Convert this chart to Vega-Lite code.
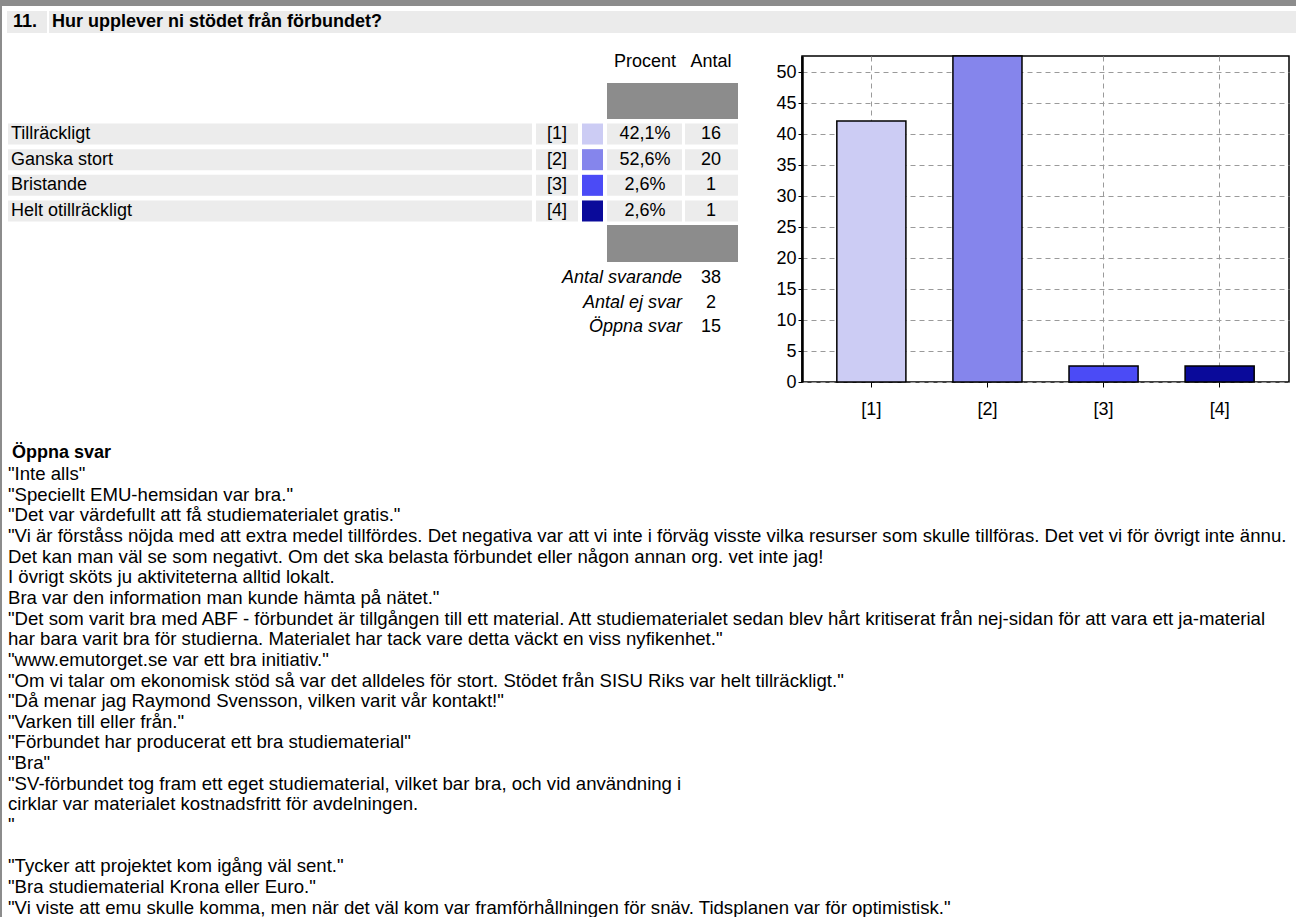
{
  "$schema": "https://vega.github.io/schema/vega-lite/v6.json",
  "padding": 0,
  "background": "white",
  "spacing": 0,
  "config": {
    "view": {"stroke": null},
    "concat": {"spacing": 0},
    "font": "Liberation Sans",
    "text": {"font": "Liberation Sans", "color": "black"}
  },
  "datasets": {
    "svar": [
      {"kod": "[1]", "svar": "Tillräckligt", "procent": 42.1, "procentText": "42,1%", "antal": 16},
      {"kod": "[2]", "svar": "Ganska stort", "procent": 52.6, "procentText": "52,6%", "antal": 20},
      {"kod": "[3]", "svar": "Bristande", "procent": 2.6, "procentText": "2,6%", "antal": 1},
      {"kod": "[4]", "svar": "Helt otillräckligt", "procent": 2.6, "procentText": "2,6%", "antal": 1}
    ],
    "summa": [
      {"etikett": "Antal svarande", "varde": 38},
      {"etikett": "Antal ej svar", "varde": 2},
      {"etikett": "Öppna svar", "varde": 15}
    ],
    "tom": [{}],
    "ingen": [],
    "rubrik": [{"rad": 0, "text": "Öppna svar"}],
    "oppna": [
      {"rad": 1, "text": "\"Inte alls\""},
      {"rad": 2, "text": "\"Speciellt EMU-hemsidan var bra.\""},
      {"rad": 3, "text": "\"Det var värdefullt att få studiematerialet gratis.\""},
      {"rad": 4, "text": "\"Vi är förståss nöjda med att extra medel tillfördes. Det negativa var att vi inte i förväg visste vilka resurser som skulle tillföras. Det vet vi för övrigt inte ännu."},
      {"rad": 5, "text": "Det kan man väl se som negativt. Om det ska belasta förbundet eller någon annan org. vet inte jag!"},
      {"rad": 6, "text": "I övrigt sköts ju aktiviteterna alltid lokalt."},
      {"rad": 7, "text": "Bra var den information man kunde hämta på nätet.\""},
      {"rad": 8, "text": "\"Det som varit bra med ABF - förbundet är tillgången till ett material. Att studiematerialet sedan blev hårt kritiserat från nej-sidan för att vara ett ja-material"},
      {"rad": 9, "text": "har bara varit bra för studierna. Materialet har tack vare detta väckt en viss nyfikenhet.\""},
      {"rad": 10, "text": "\"www.emutorget.se var ett bra initiativ.\""},
      {"rad": 11, "text": "\"Om vi talar om ekonomisk stöd så var det alldeles för stort. Stödet från SISU Riks var helt tillräckligt.\""},
      {"rad": 12, "text": "\"Då menar jag Raymond Svensson, vilken varit vår kontakt!\""},
      {"rad": 13, "text": "\"Varken till eller från.\""},
      {"rad": 14, "text": "\"Förbundet har producerat ett bra studiematerial\""},
      {"rad": 15, "text": "\"Bra\""},
      {"rad": 16, "text": "\"SV-förbundet tog fram ett eget studiematerial, vilket bar bra, och vid användning i"},
      {"rad": 17, "text": "cirklar var materialet kostnadsfritt för avdelningen."},
      {"rad": 18, "text": "\""},
      {"rad": 20, "text": "\"Tycker att projektet kom igång väl sent.\""},
      {"rad": 21, "text": "\"Bra studiematerial Krona eller Euro.\""},
      {"rad": 22, "text": "\"Vi viste att emu skulle komma, men när det väl kom var framförhållningen för snäv. Tidsplanen var för optimistisk.\""}
    ]
  },
  "vconcat": [
    {"width": 1296, "height": 6, "data": {"name": "ingen"}, "mark": "rect", "view": {"fill": "#8c8c8c"}},
    {
      "spacing": 0,
      "hconcat": [
        {"width": 2, "height": 911, "data": {"name": "ingen"}, "mark": "rect", "view": {"fill": "#8c8c8c"}},
        {
          "spacing": 0,
          "vconcat": [
            {"width": 10, "height": 5, "data": {"name": "ingen"}, "mark": "rect"},
            {
              "spacing": 0,
              "hconcat": [
                {"width": 5, "height": 22, "data": {"name": "ingen"}, "mark": "rect"},
                {"width": 40, "height": 22, "data": {"name": "tom"}, "view": {"fill": "#ebebeb"},
                 "mark": {"type": "text", "text": "11.", "align": "left", "baseline": "middle", "fontWeight": "bold", "fontSize": 18},
                 "encoding": {"x": {"value": 6}, "y": {"value": 11}}},
                {"width": 2, "height": 22, "data": {"name": "ingen"}, "mark": "rect"},
                {"width": 1247, "height": 22, "data": {"name": "tom"}, "view": {"fill": "#ebebeb"},
                 "mark": {"type": "text", "text": "Hur upplever ni stödet från förbundet?", "align": "left", "baseline": "middle", "fontWeight": "bold", "fontSize": 18},
                 "encoding": {"x": {"value": 3}, "y": {"value": 11}}}
              ]
            },
            {
              "spacing": 0,
              "hconcat": [
                {
                  "width": 759,
                  "height": 387,
                  "resolve": {"scale": {"y": "independent"}},
                  "layer": [
                    {"data": {"name": "tom"}, "mark": {"type": "text", "text": "Procent", "align": "center", "baseline": "middle", "fontSize": 18},
                     "encoding": {"x": {"value": 643}, "y": {"value": 29}}},
                    {"data": {"name": "tom"}, "mark": {"type": "text", "text": "Antal", "align": "center", "baseline": "middle", "fontSize": 18},
                     "encoding": {"x": {"value": 709}, "y": {"value": 29}}},
                    {"data": {"name": "tom"}, "mark": {"type": "rect", "color": "#8c8c8c"},
                     "encoding": {"x": {"value": 605}, "x2": {"value": 736}, "y": {"value": 50}, "y2": {"value": 86}}},
                    {"data": {"name": "tom"}, "mark": {"type": "rect", "color": "#8c8c8c"},
                     "encoding": {"x": {"value": 605}, "x2": {"value": 736}, "y": {"value": 192}, "y2": {"value": 229}}},
                    {"data": {"name": "svar"}, "mark": {"type": "rect", "color": "#ececec"},
                     "encoding": {"x": {"value": 6}, "x2": {"value": 530},
                       "y": {"field": "kod", "type": "nominal", "sort": null, "axis": null, "scale": {"type": "band", "range": [90.5, 188.5], "paddingInner": 0.18, "paddingOuter": 0}}}},
                    {"data": {"name": "svar"}, "mark": {"type": "rect", "color": "#ececec"},
                     "encoding": {"x": {"value": 534}, "x2": {"value": 576},
                       "y": {"field": "kod", "type": "nominal", "sort": null, "axis": null, "scale": {"type": "band", "range": [90.5, 188.5], "paddingInner": 0.18, "paddingOuter": 0}}}},
                    {"data": {"name": "svar"}, "mark": {"type": "rect"},
                     "encoding": {"x": {"value": 580}, "x2": {"value": 601},
                       "y": {"field": "kod", "type": "nominal", "sort": null, "axis": null, "scale": {"type": "band", "range": [90.5, 188.5], "paddingInner": 0.18, "paddingOuter": 0}},
                       "color": {"field": "kod", "type": "nominal", "legend": null, "scale": {"domain": ["[1]", "[2]", "[3]", "[4]"], "range": ["#ccccf4", "#8585ec", "#4b4bf6", "#0a0a9a"]}}}},
                    {"data": {"name": "svar"}, "mark": {"type": "rect", "color": "#ececec"},
                     "encoding": {"x": {"value": 605}, "x2": {"value": 680},
                       "y": {"field": "kod", "type": "nominal", "sort": null, "axis": null, "scale": {"type": "band", "range": [90.5, 188.5], "paddingInner": 0.18, "paddingOuter": 0}}}},
                    {"data": {"name": "svar"}, "mark": {"type": "rect", "color": "#ececec"},
                     "encoding": {"x": {"value": 683}, "x2": {"value": 736},
                       "y": {"field": "kod", "type": "nominal", "sort": null, "axis": null, "scale": {"type": "band", "range": [90.5, 188.5], "paddingInner": 0.18, "paddingOuter": 0}}}},
                    {"data": {"name": "svar"}, "mark": {"type": "text", "align": "left", "baseline": "middle", "fontSize": 18},
                     "encoding": {"x": {"value": 9}, "text": {"field": "svar"},
                       "y": {"field": "kod", "type": "nominal", "sort": null, "axis": null, "scale": {"type": "band", "range": [90.5, 188.5], "paddingInner": 0.18, "paddingOuter": 0}}}},
                    {"data": {"name": "svar"}, "mark": {"type": "text", "align": "center", "baseline": "middle", "fontSize": 18},
                     "encoding": {"x": {"value": 555}, "text": {"field": "kod"},
                       "y": {"field": "kod", "type": "nominal", "sort": null, "axis": null, "scale": {"type": "band", "range": [90.5, 188.5], "paddingInner": 0.18, "paddingOuter": 0}}}},
                    {"data": {"name": "svar"}, "mark": {"type": "text", "align": "center", "baseline": "middle", "fontSize": 18},
                     "encoding": {"x": {"value": 643}, "text": {"field": "procentText"},
                       "y": {"field": "kod", "type": "nominal", "sort": null, "axis": null, "scale": {"type": "band", "range": [90.5, 188.5], "paddingInner": 0.18, "paddingOuter": 0}}}},
                    {"data": {"name": "svar"}, "mark": {"type": "text", "align": "center", "baseline": "middle", "fontSize": 18},
                     "encoding": {"x": {"value": 709}, "text": {"field": "antal"},
                       "y": {"field": "kod", "type": "nominal", "sort": null, "axis": null, "scale": {"type": "band", "range": [90.5, 188.5], "paddingInner": 0.18, "paddingOuter": 0}}}},
                    {"data": {"name": "summa"}, "mark": {"type": "text", "align": "right", "baseline": "middle", "fontSize": 18, "fontStyle": "italic"},
                     "encoding": {"x": {"value": 680}, "text": {"field": "etikett"},
                       "y": {"field": "etikett", "type": "nominal", "sort": null, "axis": null, "scale": {"type": "point", "range": [245, 294], "padding": 0}}}},
                    {"data": {"name": "summa"}, "mark": {"type": "text", "align": "center", "baseline": "middle", "fontSize": 18},
                     "encoding": {"x": {"value": 709}, "text": {"field": "varde"},
                       "y": {"field": "etikett", "type": "nominal", "sort": null, "axis": null, "scale": {"type": "point", "range": [245, 294], "padding": 0}}}}
                  ]
                },
                {
                  "spacing": 0,
                  "vconcat": [
                    {"width": 10, "height": 21, "data": {"name": "ingen"}, "mark": "rect"},
                    {
                      "width": 487,
                      "height": 326,
                      "data": {"name": "svar"},
                      "view": {"stroke": "black", "strokeWidth": 1.5, "fill": "white"},
                      "mark": {"type": "bar", "stroke": "black", "strokeWidth": 1.5},
                      "encoding": {
                        "x": {"field": "kod", "type": "nominal", "sort": null,
                          "scale": {"paddingInner": 0.405, "paddingOuter": 0.3},
                          "axis": {"title": null, "labelAngle": 0, "labelFontSize": 18, "labelColor": "black", "labelPadding": 13, "tickSize": 5, "tickColor": "black", "domain": false, "grid": true, "gridDash": [5, 4], "gridColor": "#9a9a9a", "bandPosition": 0.5, "minExtent": 40, "maxExtent": 40}},
                        "y": {"field": "procent", "type": "quantitative",
                          "scale": {"domain": [0, 52.6], "nice": false},
                          "axis": {"title": null, "values": [0, 5, 10, 15, 20, 25, 30, 35, 40, 45, 50], "labelFontSize": 18, "labelColor": "black", "labelPadding": 2, "tickSize": 4, "tickColor": "black", "domainColor": "black", "domainWidth": 2.5, "grid": true, "gridDash": [5, 4], "gridColor": "#9a9a9a", "minExtent": 40, "maxExtent": 40}},
                        "color": {"field": "kod", "type": "nominal", "legend": null,
                          "scale": {"domain": ["[1]", "[2]", "[3]", "[4]"], "range": ["#ccccf4", "#8585ec", "#4b4bf6", "#0a0a9a"]}}
                      }
                    }
                  ]
                }
              ]
            },
            {
              "width": 1294,
              "height": 497,
              "layer": [
                {"data": {"name": "rubrik"}, "mark": {"type": "text", "align": "left", "baseline": "middle", "fontSize": 18, "fontWeight": "bold"},
                 "encoding": {"x": {"value": 10}, "text": {"field": "text"},
                   "y": {"field": "rad", "type": "quantitative", "axis": null, "scale": {"domain": [-1.47, 22.598], "nice": false, "zero": false, "reverse": true}}}},
                {"data": {"name": "oppna"}, "mark": {"type": "text", "align": "left", "baseline": "middle", "fontSize": 18.6},
                 "encoding": {"x": {"value": 6}, "text": {"field": "text"},
                   "y": {"field": "rad", "type": "quantitative", "axis": null, "scale": {"domain": [-1.47, 22.598], "nice": false, "zero": false, "reverse": true}}}}
              ]
            }
          ]
        }
      ]
    }
  ]
}
